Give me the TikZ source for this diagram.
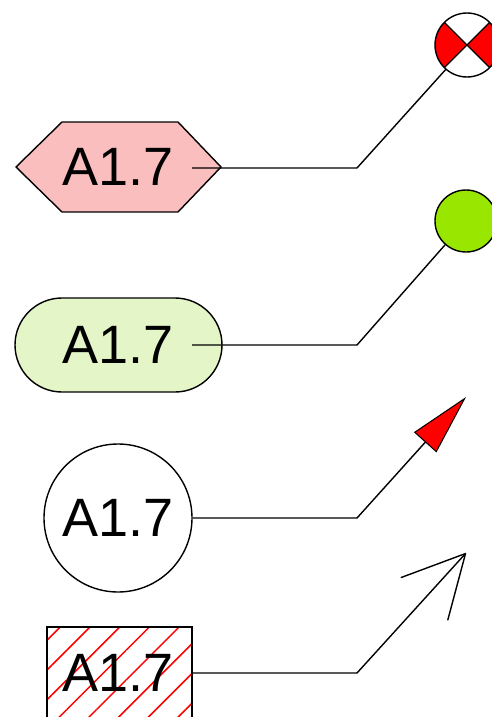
\documentclass[tikz,border=0pt]{standalone}
\usepackage{fontspec}
\setmainfont{Liberation Sans}
\usetikzlibrary{patterns.meta,arrows.meta,calc}
\definecolor{hexpink}{RGB}{250,190,190}
\definecolor{palegreen}{RGB}{228,245,200}
\definecolor{lime}{RGB}{153,230,0}
\tikzset{
  conn/.style={draw=black,line width=1.4pt},
  shapeline/.style={draw=black,line width=1.4pt},
  lbl/.style={font=\fontsize{54}{54}\selectfont,inner sep=0pt},
}
\begin{document}
\begin{tikzpicture}[x=1pt,y=-1pt]
\useasboundingbox (0,0) rectangle (491,717);
% hexagon
\draw[shapeline,fill=hexpink] (16,167) -- (62,122) -- (178,122) -- (221,167) -- (178,212) -- (62,212) -- cycle;
\node[lbl] (t1) at (118,167) {A1.7};
\coordinate (s1) at (192,168);
\coordinate (b1) at (357,168);
% cross circle
\coordinate (c1) at (467,45);
\fill[white] (c1) circle (32);
\fill[red] (c1) -- ++(135:32) arc (135:225:32) -- cycle;
\fill[red] (c1) -- ++(-45:32) arc (-45:45:32) -- cycle;
\draw[line width=1.4pt] ($(c1)+(135:32)$) -- ($(c1)+(-45:32)$);
\draw[line width=1.4pt] ($(c1)+(45:32)$) -- ($(c1)+(225:32)$);
\draw[shapeline] (c1) circle (32);
\coordinate (e1) at ($(c1)+(131:32)$);
\draw[conn] (s1) -- (b1) -- (e1);
% rounded rect
\draw[shapeline,fill=palegreen,rounded corners=47] (15,298) rectangle (222,392);
\node[lbl] (t2) at (118,345) {A1.7};
\coordinate (s2) at (192,345);
\coordinate (b2) at (357,345);
\node[circle,shapeline,fill=lime,minimum size=62pt,inner sep=0pt] (c2) at (466,221) {};
\draw[conn] (s2) -- (b2) -- (c2);
% circle with text
\node[circle,shapeline,minimum size=148pt,inner sep=0pt,fill=white] (c3) at (118,518) {};
\node[lbl] (t3) at (118,518) {A1.7};
\coordinate (b3) at (357,518);
\coordinate (tip3) at (466,397);
\draw[conn,-{Triangle[length=61pt,width=30pt,fill=red,line width=1pt]}] (c3.east) -- (b3) -- (tip3);
% hatched square
\draw[shapeline,pattern={Lines[angle=45,distance=21pt,line width=1.5pt]},pattern color=red] (47,627) rectangle (192,772);
\node[lbl] (t4) at (118,673) {A1.7};
\coordinate (s4) at (192,673);
\coordinate (b4) at (357,673);
\coordinate (tip4) at (466,553);
\draw[conn,-{Straight Barb[length=61pt,width=63pt,line width=1.4pt,round]}] (s4) -- (b4) -- (tip4);
\end{tikzpicture}
\end{document}
